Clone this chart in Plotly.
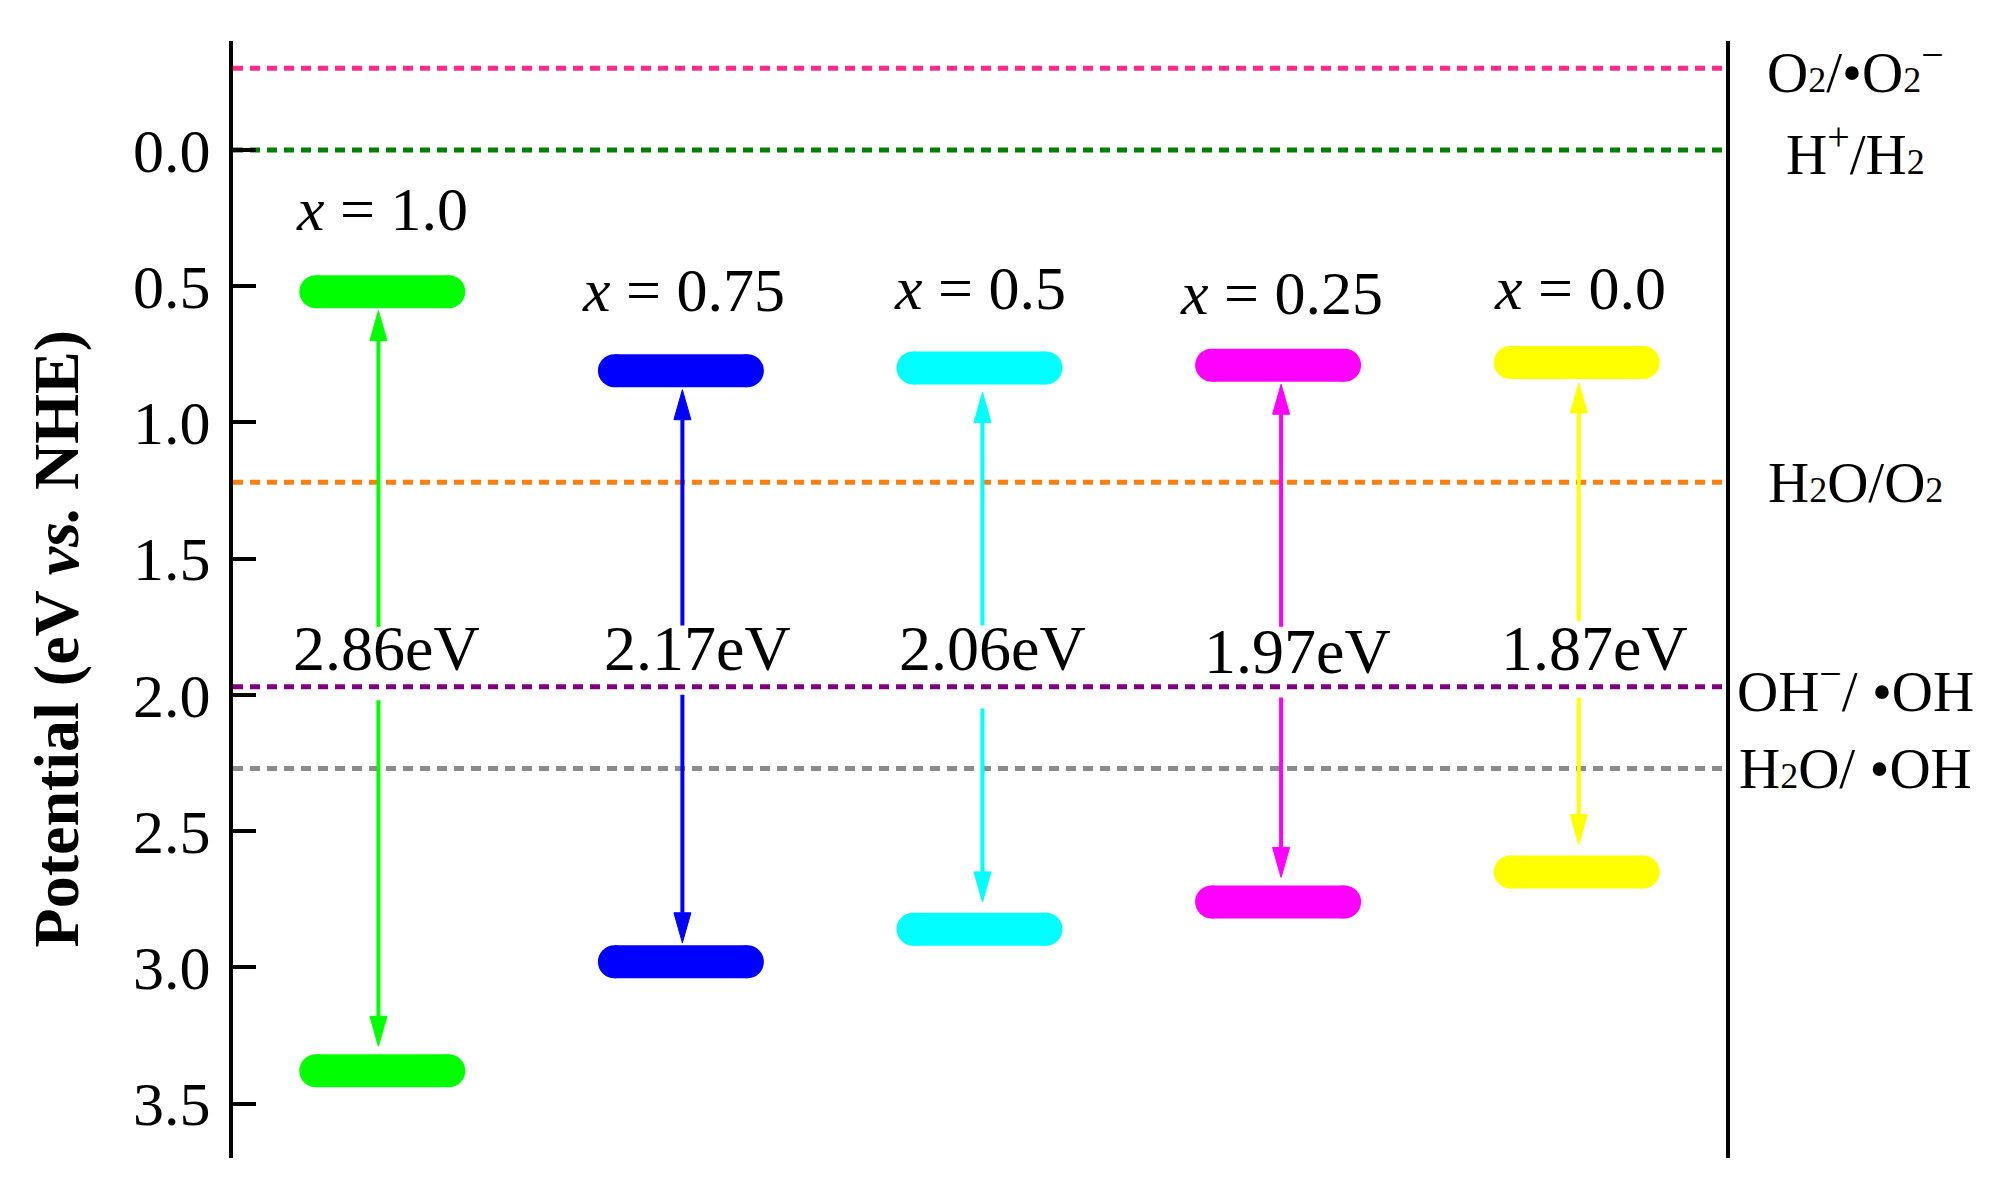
import plotly.graph_objects as go

# ---------------- data ----------------
compositions = ["1.0", "0.75", "0.5", "0.25", "0.0"]
positions = [1, 2, 3, 4, 5]
cb_potential = [0.52, 0.81, 0.80, 0.79, 0.78]
vb_potential = [3.38, 2.98, 2.86, 2.76, 2.65]
gap_text = ["2.86eV", "2.17eV", "2.06eV", "1.97eV", "1.87eV"]
band_colors = ["#00FF00", "#0000FF", "#00FFFF", "#FF00FF", "#FFFF00"]

comp_label_x = [1.0, 2.01, 3.0, 4.01, 5.01]
comp_label_y = [0.215, 0.515, 0.505, 0.525, 0.505]
gap_label_x = [1.013, 2.055, 3.045, 4.065, 5.06]
gap_label_y = [1.83, 1.83, 1.83, 1.84, 1.83]

arrow_x = [0.987, 2.005, 3.01, 4.01, 5.007]
up_from = [1.75, 1.745, 1.745, 1.75, 1.73]
up_to = [0.59, 0.88, 0.89, 0.86, 0.855]
down_from = [2.02, 2.00, 2.05, 2.01, 2.01]
down_to = [3.29, 2.91, 2.76, 2.67, 2.55]

ref_values = [-0.30, 0.0, 1.22, 1.97, 2.27]
SUB = "<span style='font-size:36px'>2</span>"
ref_labels = ["O" + SUB + "/•O" + SUB + "<sup>−</sup>",
              "H<sup>+</sup>/H" + SUB,
              "H" + SUB + "O/O" + SUB,
              "OH<sup>−</sup>/ •OH",
              "H" + SUB + "O/ •OH"]
ref_colors = ["#FF2A8C", "#008000", "#FF7F0E", "#800080", "#8C8C8C"]

y_ticks = [0.0, 0.5, 1.0, 1.5, 2.0, 2.5, 3.0, 3.5]

# ---------------- layout constants ----------------
W, H = 2000, 1182
ML, MT = 225, 33
plot_w, plot_h = 1493, 1117
MR = W - ML - plot_w
MB = H - MT - plot_h
XR = [0.5, 5.5]
YR = [3.70, -0.40]
px_x = plot_w / (XR[1] - XR[0])
px_y = plot_h / abs(YR[0] - YR[1])

FONT = "Liberation Serif"
bar_half = 83 / px_x
bar_thick = 33
cap_r = bar_thick / 2 / px_x
head_len = 30 / px_y
head_half = 8.5 / px_x

fig = go.Figure()

# reference dashed lines
for v, c in zip(ref_values, ref_colors):
    fig.add_trace(go.Scatter(x=XR, y=[v, v], mode="lines",
                             line=dict(color=c, width=5, dash="10px,7px"),
                             hoverinfo="skip", showlegend=False))

# bands
for p, cbv, vbv, col in zip(positions, cb_potential, vb_potential, band_colors):
    for lvl in (cbv, vbv):
        fig.add_trace(go.Scatter(
            x=[p - bar_half + cap_r, p + bar_half - cap_r], y=[lvl, lvl],
            mode="lines+markers",
            line=dict(color=col, width=bar_thick),
            marker=dict(color=col, size=bar_thick, line=dict(width=0)),
            hoverinfo="skip", showlegend=False))

# arrows
def arrow(x, y0, y1, col):
    d = 1 if y1 > y0 else -1
    base = y1 - d * head_len
    fig.add_trace(go.Scatter(x=[x, x], y=[y0, base], mode="lines",
                             line=dict(color=col, width=4),
                             hoverinfo="skip", showlegend=False))
    fig.add_trace(go.Scatter(x=[x - head_half, x + head_half, x, x - head_half],
                             y=[base, base, y1, base], mode="lines",
                             fill="toself", fillcolor=col,
                             line=dict(color=col, width=1),
                             hoverinfo="skip", showlegend=False))

for ax_, uf, ut, df, dt, col in zip(arrow_x, up_from, up_to, down_from, down_to, band_colors):
    arrow(ax_, uf, ut, col)
    arrow(ax_, df, dt, col)

annotations = []
for comp, lx, ly in zip(compositions, comp_label_x, comp_label_y):
    annotations.append(dict(x=lx, y=ly, xref="x", yref="y",
                            text="<i>x</i> = " + comp, showarrow=False,
                            font=dict(family=FONT, size=62, color="black"),
                            xanchor="center", yanchor="middle"))
for g, gx, gy in zip(gap_text, gap_label_x, gap_label_y):
    annotations.append(dict(x=gx, y=gy, xref="x", yref="y", text=g,
                            showarrow=False,
                            font=dict(family=FONT, size=64, color="black"),
                            xanchor="center", yanchor="middle"))
for lab, v in zip(ref_labels, ref_values):
    annotations.append(dict(x=1.087, y=v, xref="paper", yref="y", text=lab,
                            showarrow=False,
                            font=dict(family=FONT, size=57, color="black"),
                            xanchor="center", yanchor="middle"))
annotations.append(dict(x=-0.118, y=0.465, xref="paper", yref="paper",
                        text="<b>Potential (eV <i>vs.</i> NHE)</b>",
                        textangle=-90, showarrow=False,
                        font=dict(family=FONT, size=64, color="black"),
                        xanchor="center", yanchor="middle"))

fig.update_layout(
    width=W, height=H,
    margin=dict(l=ML, r=MR, t=MT, b=MB),
    paper_bgcolor="white", plot_bgcolor="white",
    annotations=annotations,
    xaxis=dict(range=XR, visible=False, showgrid=False, zeroline=False),
    yaxis=dict(range=YR, showgrid=False, zeroline=False,
               showline=True, linecolor="black", linewidth=4, mirror=True,
               ticks="inside", ticklen=23, tickwidth=4, tickcolor="black",
               tickvals=y_ticks, ticktext=[f"{t:.1f}" for t in y_ticks],
               ticklabelstandoff=6,
               tickfont=dict(family=FONT, size=62, color="black")),
)

fig.write_html("out.html")
